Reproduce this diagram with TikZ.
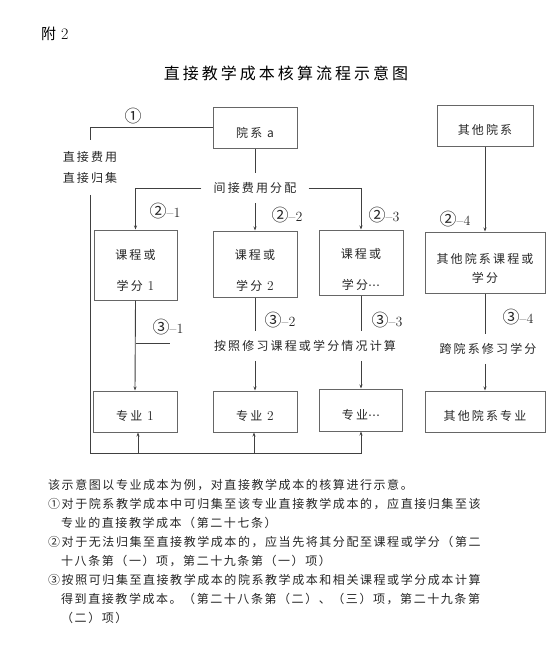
\documentclass[tikz,border=0pt]{standalone}
\usepackage{fontspec}
\usetikzlibrary{arrows.meta,calc}
\newfontfamily\cjk{Noto Sans CJK SC}
\newfontfamily\dejavu{DejaVu Sans}
\newfontfamily\cjkbox[LetterSpace=18]{Noto Sans CJK SC}
\newfontfamily\cjktitle[LetterSpace=19]{Noto Sans CJK SC}
\newfontfamily\cjknote[LetterSpace=13]{Noto Sans CJK SC}
\newcommand\mydig[1]{{\rmfamily\fontsize{13.5}{13.5}\selectfont #1}}
\newcommand\mydots{{\dejavu ⋯}}
\newcommand\circnum[1]{{\cjk\fontsize{17}{17}\selectfont #1}}
\tikzset{
  frame/.style={draw=black!60, line width=1pt, inner sep=0pt},
  btext/.style={font=\cjkbox\fontsize{12}{31}\selectfont, align=center, inner sep=0pt, text=black!85},
  ctext/.style={font=\cjkbox\fontsize{12}{19}\selectfont, align=center, text=black!85},
  lbl/.style={font=\fontsize{14}{14}\selectfont, inner sep=0pt, text=black!85},
  notetext/.style={font=\cjknote\fontsize{12}{19}\selectfont, anchor=base west, inner sep=0pt, text=black!85},
  conn/.style={draw=black!75, line width=0.9pt},
  arr/.style={conn, -{Stealth[length=4pt,width=3pt]}}
}
\begin{document}
\begin{tikzpicture}[x=1pt,y=-1pt]
\fill[white] (0,0) rectangle (559,651);
\useasboundingbox (0,0) rectangle (559,651);

% headings
\node[font=\cjk\fontsize{15}{15}\selectfont, anchor=west, inner sep=0pt] (fu) at (41,34) {附\hspace{5pt}{\rmfamily\fontsize{16}{16}\selectfont 2}};
\node[font=\cjktitle\fontsize{16}{16}\selectfont, inner sep=0pt] (title) at (286,73) {直接教学成本核算流程示意图};

% boxes
\node[frame, minimum width=84, minimum height=41] (deptA) at (255,127.5) {};
\node[btext] (deptAt) at (255,133) {院系 a};
\node[frame, minimum width=96, minimum height=41] (other) at (485,125.5) {};
\node[btext] (othert) at (485,130) {其他院系};

\node[frame, minimum width=83, minimum height=70] (c1) at (135.5,265) {};
\node[btext] (c1t) at (135.5,270.5) {课程或\\学分 \mydig{1}};
\node[frame, minimum width=84, minimum height=66] (c2) at (255,264) {};
\node[btext] (c2t) at (255,270.5) {课程或\\学分 \mydig{2}};
\node[frame, minimum width=84, minimum height=65] (c3) at (361,262.5) {};
\node[btext] (c3t) at (361,269) {课程或\\学分\mydots};
\node[frame, minimum width=120, minimum height=61] (c4) at (485,262.5) {};
\node[ctext, inner sep=0pt] (c4t) at (485,268.5) {其他院系课程或\\学分};

\node[frame, minimum width=84, minimum height=41] (m1) at (135,411.5) {};
\node[btext] (m1t) at (135,416) {专业 \mydig{1}};
\node[frame, minimum width=84, minimum height=41] (m2) at (255,411.5) {};
\node[btext] (m2t) at (255,416) {专业 \mydig{2}};
\node[frame, minimum width=83, minimum height=42] (m3) at (361,410) {};
\node[btext] (m3t) at (361,415) {专业\mydots};
\node[frame, minimum width=120, minimum height=41] (m4) at (485,411.5) {};
\node[btext] (m4t) at (485,416) {其他院系专业};

% free texts
\node[ctext, font=\cjkbox\fontsize{12}{21}\selectfont, inner xsep=0pt, inner ysep=11pt] (direct) at (90,167.5) {直接费用\\直接归集};
\node[ctext, inner xsep=12pt, inner ysep=9.5pt] (alloc) at (255,188) {间接费用分配};
\node[ctext, inner xsep=4pt, inner ysep=9pt] (calc) at (305,346) {按照修习课程或学分情况计算};
\node[ctext, inner xsep=4pt, inner ysep=9pt] (cross) at (488,349) {跨院系修习学分};

% labels
\node[lbl] (l1) at (133,116) {\circnum{①}};
\node[lbl] (l21) at (165,211) {\circnum{②}\textendash1};
\node[lbl] (l22) at (287,215) {\circnum{②}\textendash2};
\node[lbl] (l23) at (384,215) {\circnum{②}\textendash3};
\node[lbl] (l24) at (455,219) {\circnum{②}\textendash4};
\node[lbl] (l31) at (168,327) {\circnum{③}\textendash1};
\node[lbl] (l32) at (280,320) {\circnum{③}\textendash2};
\node[lbl] (l33) at (387,320) {\circnum{③}\textendash3};
\node[lbl] (l34) at (518,317) {\circnum{③}\textendash4};

% connectors
\draw[conn] (deptA.west) -| (direct.north);
\draw[conn] (deptA.south) -- (alloc.north);
\draw[arr] (alloc.west) -| (c1.north);
\draw[arr] (alloc.south) -- (c2.north);
\draw[arr] (alloc.east) -| (c3.north);
\draw[arr] (other.south) -- (c4.north);

\draw[arr] (c1.south) -- (m1.north);
\coordinate (stub) at (170,343);
\draw[conn] (c1.south |- stub) -- (stub);
\draw[conn] (c2.south) -- (c2.south |- calc.north);
\draw[arr] (c2.south |- calc.south) -- (m2.north);
\draw[conn] (c3.south) -- (c3.south |- calc.north);
\draw[arr] (c3.south |- calc.south) -- (m3.north);
\draw[conn] (c4.south) -- (c4.south |- cross.north);
\draw[arr] (c4.south |- cross.south) -- (m4.north);

\coordinate (corner) at (90,453);
\draw[arr] (direct.south) -- (corner) -| (m3.south);
\draw[arr] ($(corner -| m1.south)+(3,0)$) -- ($(m1.south)+(3,0)$);
\draw[arr] ($(corner -| m2.south)+(-1,0)$) -- ($(m2.south)+(-1,0)$);

% notes
\node[notetext] (n1) at (48,489.5) {该示意图以专业成本为例，对直接教学成本的核算进行示意。};
\node[notetext] (n2) at (48,508.5) {①对于院系教学成本中可归集至该专业直接教学成本的，应直接归集至该};
\node[notetext] (n3) at (61,527.5) {专业的直接教学成本（第二十七条）};
\node[notetext] (n4) at (48,546.5) {②对于无法归集至直接教学成本的，应当先将其分配至课程或学分（第二};
\node[notetext] (n5) at (61,565.5) {十八条第（一）项，第二十九条第（一）项）};
\node[notetext] (n6) at (48,584.5) {③按照可归集至直接教学成本的院系教学成本和相关课程或学分成本计算};
\node[notetext] (n7) at (61,603.5) {得到直接教学成本。（第二十八条第（二）、（三）项，第二十九条第};
\node[notetext] (n8) at (61,622.5) {（二）项）};
\end{tikzpicture}
\end{document}
